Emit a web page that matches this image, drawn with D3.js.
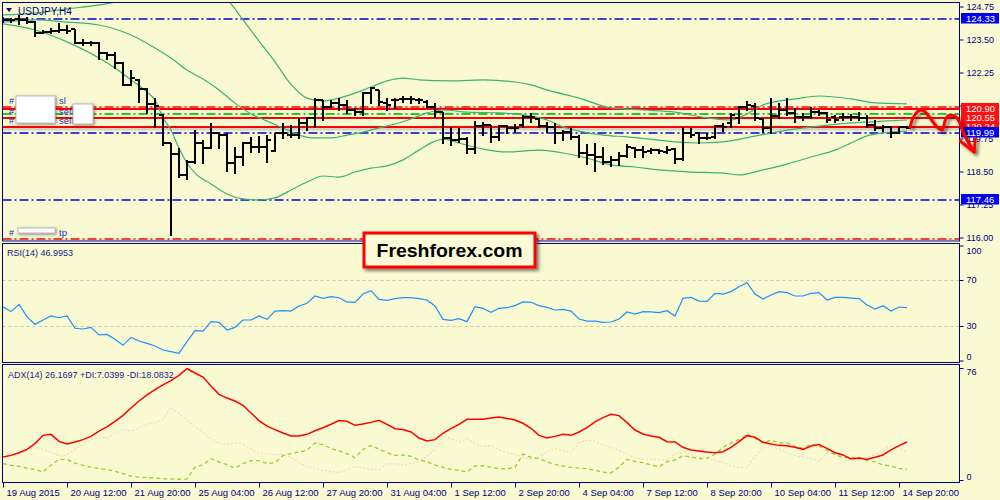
<!DOCTYPE html>
<html><head><meta charset="utf-8">
<script src="https://cdnjs.cloudflare.com/ajax/libs/d3/7.8.5/d3.min.js"></script>
<style>
html,body{margin:0;padding:0;background:#FAFAD2;}
svg{display:block;font-family:"Liberation Sans",Arial,sans-serif;}
</style></head><body>
<svg id="c" width="1000" height="500"></svg>
<script>
// ---------------- DATA ----------------
const timeLabels = ["19 Aug 2015","20 Aug 12:00","21 Aug 20:00","25 Aug 04:00","26 Aug 12:00","27 Aug 20:00","31 Aug 04:00","1 Sep 12:00","2 Sep 20:00","4 Sep 04:00","7 Sep 12:00","8 Sep 20:00","10 Sep 04:00","11 Sep 12:00","14 Sep 20:00"];
const timeLabelIdx = [0,8,16,24,32,40,48,56,64,72,80,88,96,104,112];

const opens = [124.24,124.24,124.26,124.24,124.18,123.76,123.80,123.83,123.86,123.89,
123.38,123.38,123.38,122.98,122.91,122.60,121.78,121.97,121.61,121.04,
120.64,119.57,119.16,118.37,118.87,119.57,119.38,119.95,119.88,118.81,
119.06,119.57,119.44,119.44,119.29,119.95,119.88,119.88,120.32,120.51,
121.21,120.96,121.08,121.02,120.83,120.77,121.46,121.59,121.08,121.21,
121.24,121.24,121.21,121.15,120.96,120.77,119.76,119.69,119.72,119.34,
120.22,120.26,119.79,120.22,120.13,120.26,120.58,120.49,120.22,120.20,
119.97,120.01,119.79,119.21,119.12,119.04,118.87,118.94,119.09,119.38,
119.31,119.28,119.31,119.25,119.34,118.96,119.95,119.95,119.76,119.79,
120.22,120.32,120.51,120.96,120.98,120.49,120.13,120.60,120.83,120.70,
120.58,120.58,120.77,120.70,120.58,120.58,120.55,120.58,120.51,120.26,
120.13,120.20,119.97,120.20];
const highs = [124.36,124.30,124.43,124.36,124.21,123.86,123.92,124.11,124.05,123.89,
123.51,123.46,123.42,123.04,123.04,122.66,122.34,121.99,121.65,121.27,
120.67,119.59,119.38,118.94,120.07,119.69,120.35,119.95,119.95,119.44,
119.63,119.82,119.85,119.88,119.95,120.32,120.26,120.51,120.58,121.27,
121.21,121.21,121.27,121.21,120.89,121.52,121.71,121.59,121.27,121.27,
121.36,121.36,121.27,121.21,121.08,120.77,120.20,120.13,119.82,120.43,
120.39,120.26,120.26,120.26,120.30,120.64,120.70,120.51,120.39,120.35,
120.07,120.13,119.88,119.54,119.57,119.41,119.09,119.25,119.54,119.44,
119.47,119.38,119.34,119.47,119.38,120.20,120.13,120.01,119.95,120.26,
120.32,120.70,120.98,121.17,121.08,120.51,121.27,121.08,121.27,120.89,
120.70,120.96,120.83,120.77,120.64,120.70,120.68,120.77,120.64,120.45,
120.26,120.22,120.20,120.22];
const lows = [124.18,124.18,124.09,124.11,123.63,123.73,123.76,123.80,123.73,123.35,
123.29,123.29,122.75,122.75,122.41,121.78,121.78,121.15,120.70,120.20,
119.50,116.09,118.30,118.20,118.81,118.81,119.38,119.38,118.53,118.43,
118.75,119.25,119.25,118.87,119.29,119.76,119.82,119.76,120.07,120.20,
120.45,120.96,120.83,120.70,120.64,120.64,121.08,121.02,120.83,120.89,
121.15,121.08,121.08,120.89,120.58,119.57,119.50,119.63,119.21,119.19,
119.88,119.63,119.69,119.95,120.01,120.20,120.39,120.17,120.01,119.59,
119.69,119.72,119.06,118.78,118.53,118.78,118.71,118.75,119.06,119.06,
119.06,119.21,119.21,119.21,118.81,118.94,119.82,119.59,119.72,119.76,
120.05,120.17,120.32,120.83,120.45,120.01,119.95,120.51,120.64,120.39,
120.45,120.51,120.64,120.39,120.39,120.45,120.45,120.45,120.20,120.07,
120.05,119.79,119.95,120.13];
const closes = [124.24,124.22,124.22,124.18,123.76,123.78,123.83,123.86,123.83,123.38,
123.38,123.38,122.98,122.91,122.60,121.78,122.03,121.61,121.04,120.98,
119.59,119.16,118.37,118.87,119.57,119.38,119.95,119.88,118.81,119.06,
119.57,119.44,119.44,119.69,119.95,119.95,119.88,120.32,120.51,121.21,
120.96,121.08,121.02,120.83,120.77,121.46,121.65,121.15,121.02,121.21,
121.24,121.24,121.21,120.96,120.77,119.76,119.69,119.72,119.34,120.22,
120.26,119.79,120.22,120.13,120.13,120.58,120.58,120.22,120.20,119.97,
120.01,119.79,119.21,119.12,119.04,118.87,118.94,119.09,119.44,119.31,
119.25,119.31,119.29,119.31,118.96,119.95,119.88,119.76,119.76,120.22,
120.20,120.64,120.96,121.02,120.51,120.13,120.60,120.83,120.70,120.58,
120.58,120.77,120.70,120.45,120.45,120.55,120.58,120.51,120.26,120.13,
120.20,119.97,120.17,120.16];

// Bollinger bands (read at sampled bars)
const bbUpperIdx = [0,4,8,12,14,17,20,24,27,28,30,32,34,36,38,40,42,44,46,48,50,52,56,60,64,66,68,72,76,80,84,88,91,93,95,99,102,106,109,113];
const bbUpperVal = [124.43,124.50,124.66,124.81,124.92,125.30,125.45,125.37,125.15,125.00,124.24,123.44,122.65,121.80,121.28,121.17,121.28,121.47,121.70,121.93,122.04,121.97,121.93,121.97,121.89,121.78,121.59,121.28,120.91,120.83,120.75,120.53,120.45,120.68,121.02,121.25,121.36,121.25,121.10,121.06];
const bbMidIdx = [0,4,8,12,16,19,21,23,25,27,29,31,33,35,37,39,41,43,45,47,49,51,53,55,58,62,65,68,70,72,75,78,82,84,87,90,94,98,102,106,110,113];
const bbMidVal = [124.16,124.24,124.16,124.05,123.67,123.18,122.80,122.34,122.00,121.59,121.09,120.68,120.41,120.15,119.88,119.77,119.77,119.88,119.99,120.15,120.30,120.49,120.72,120.83,120.75,120.72,120.64,120.45,120.19,120.03,119.88,119.81,119.69,119.62,119.58,119.62,119.84,120.07,120.22,120.34,120.41,120.45];
const bbLowIdx = [0,4,8,12,14,16,18,19,20,21,22,23,24,26,28,30,32,34,36,38,40,42,44,46,48,50,52,54,55,57,60,63,67,70,73,76,79,82,86,90,92,95,98,101,104,106,108,110,113];
const bbLowVal = [124.09,123.86,123.41,122.80,122.42,121.97,121.51,121.21,120.53,120.07,119.39,118.82,118.44,118.03,117.65,117.46,117.42,117.50,117.80,118.10,118.33,118.29,118.48,118.63,118.71,118.94,119.31,119.65,119.73,119.58,119.35,119.24,119.31,119.20,119.01,118.75,118.67,118.56,118.48,118.44,118.37,118.56,118.78,119.05,119.31,119.58,119.85,119.96,120.03];

// Horizontal levels
const blueLevels = [124.33, 119.99, 117.46];
const orderLevels = [120.90, 120.55, 120.24];
const stopLevels = [121.00, 116.00];
const targetLevels = [120.70];
const bidLevel = [120.16];
const orderTags = [{v:121.00,t:"sl"},{v:120.55,t:"sell"},{v:120.24,t:"sell"},{v:116.00,t:"tp"}];

// Forecast arrow (bar index, price)
const forecastIdx = [113.4,113.75,114.25,114.9,115.5,116.25,116.9,117.4,117.75,118.1,119.0,119.5,119.9,120.5,121.4];
const forecastVal = [120.18,120.53,120.75,120.83,120.68,120.37,120.15,120.07,120.41,120.60,120.60,120.41,120.07,119.69,119.24];

const rsi = [46.8,42.5,48.8,38.1,31.4,35.2,38.7,37.2,38.7,28.0,
27.4,28.8,22.2,22.7,18.4,13.2,20.1,17.0,14.9,12.6,
9.1,7.7,6.2,16.4,25.9,25.6,33.8,33.2,26.5,28.8,
35.2,35.2,38.7,35.8,43.0,43.3,43.0,47.4,49.7,56.1,
54.1,55.5,54.6,50.9,50.6,57.8,60.7,53.2,52.3,53.8,
54.6,54.6,53.8,52.6,47.4,35.8,34.9,36.4,33.8,46.8,
45.4,41.9,45.4,45.9,47.7,50.9,50.6,47.7,46.2,43.9,
44.5,43.0,36.1,34.3,34.3,33.2,33.5,36.1,42.2,40.4,
42.5,42.2,41.6,43.3,38.7,54.1,54.9,51.7,51.4,58.4,
57.8,59.9,64.2,67.7,57.8,53.5,57.0,59.9,59.0,56.1,
56.1,58.4,59.0,52.6,54.9,54.9,54.3,53.8,48.3,44.8,
47.7,43.0,46.5,45.9];
const rsiLevels = [70, 30];

const adx = [15.6,16.7,18.5,20.8,24.7,30.3,31.0,26.2,24.4,25.8,
27.4,29.6,33.2,36.0,39.8,43.9,48.9,53.6,57.7,61.3,
64.5,67.4,71.0,75.5,72.6,69.9,63.8,58.1,55.6,53.6,
50.7,45.5,40.3,36.6,34.2,31.9,29.9,29.9,31.0,33.4,
35.5,37.8,40.3,39.8,37.1,38.0,39.1,40.5,37.8,34.8,
34.2,32.6,28.5,26.5,27.4,31.7,34.8,37.8,41.2,41.2,
41.2,42.1,42.7,41.8,40.7,38.5,35.1,30.3,28.5,29.6,
31.0,30.3,32.6,35.5,39.4,42.3,44.6,43.7,38.9,33.9,
31.2,29.9,29.0,26.0,25.8,22.2,20.4,19.7,19.0,18.5,
19.2,22.2,26.0,30.1,29.0,25.6,24.4,23.5,23.3,22.2,
20.8,23.1,24.0,21.5,18.5,17.0,14.3,14.9,14.0,15.4,
17.0,20.4,23.3,25.8];
const plusDI = [11.1,10.0,9.3,8.1,7.2,5.4,10.0,14.0,13.8,11.5,
10.0,8.8,7.7,7.0,5.9,4.3,2.7,2.0,1.6,1.4,
0.9,0.7,0.5,0.7,8.8,10.4,14.5,12.2,10.4,8.1,
11.1,13.1,13.1,11.1,11.8,16.7,17.9,19.0,20.1,25.1,
24.0,21.3,19.7,17.9,15.2,20.8,23.5,20.8,18.5,16.7,
17.0,16.1,13.6,12.4,10.2,8.6,7.2,6.6,5.4,9.5,
9.7,8.6,7.7,7.5,8.6,17.6,15.4,14.5,12.2,10.6,
9.5,8.6,8.1,7.7,6.6,5.4,4.7,8.8,14.0,12.7,
11.8,10.2,9.0,12.4,13.6,16.5,15.6,14.5,14.7,17.6,
22.2,25.1,27.4,31.2,28.3,25.1,27.1,25.1,25.3,22.8,
21.5,24.4,22.8,20.4,17.2,15.2,15.4,15.4,13.1,12.4,
10.2,9.5,7.9,7.2];
const minusDI = [19.5,17.6,18.1,20.1,22.2,20.8,18.8,16.1,17.2,20.8,
24.4,27.4,29.0,28.3,31.7,34.4,33.2,35.3,37.8,38.9,
41.2,49.3,45.0,40.7,36.2,32.1,28.1,24.7,24.0,25.3,
24.0,21.0,18.1,17.9,17.2,17.6,15.6,11.8,9.3,7.9,
6.6,5.7,5.0,6.8,9.3,8.1,7.0,7.0,11.1,11.1,
10.0,11.1,12.7,16.1,20.8,30.3,28.1,25.8,28.1,24.7,
22.6,23.3,20.4,18.5,17.6,15.6,14.0,15.6,19.0,21.5,
19.7,18.5,25.1,27.1,26.2,23.5,22.2,20.1,17.6,15.2,
14.2,14.0,14.0,13.6,17.6,19.0,17.0,15.8,15.2,13.1,
12.2,9.5,8.6,8.4,15.8,21.7,22.6,21.0,18.5,16.5,
15.6,14.7,12.7,18.1,18.5,16.3,14.5,13.8,14.7,17.6,
20.4,23.1,22.6,18.3];

const priceTicks = [116.00,117.25,118.50,119.75,121.00,122.25,123.50,124.75];
const hiddenPriceLabels = [121.00];
const rsiTicks = [0,30,70,100];
const adxTicks = [0,76];

// ---------------- DRAW ----------------
const BG = "#FAFAD2", NAVY = "#000080";
const svg = d3.select("#c");
svg.append("rect").attr("width",1000).attr("height",500).attr("fill",BG);

const defs = svg.append("defs");
const f1 = defs.append("filter").attr("id","shadow").attr("x","-30%").attr("y","-30%").attr("width","160%").attr("height","160%");
f1.append("feDropShadow").attr("dx",2.5).attr("dy",2.5).attr("stdDeviation",1.8).attr("flood-color","#000").attr("flood-opacity",0.5);
const f2 = defs.append("filter").attr("id","blurbox").attr("x","-30%").attr("y","-30%").attr("width","160%").attr("height","160%");
f2.append("feDropShadow").attr("dx",1).attr("dy",1).attr("stdDeviation",1.6).attr("flood-color","#444").attr("flood-opacity",0.7);

const L = 2.5, R = 959.5;
const panels = [[2.5,241],[243.5,362.5],[364.5,482.5]];
panels.forEach((p,i)=>{
  defs.append("clipPath").attr("id","clip"+i).append("rect")
    .attr("x",L+0.5).attr("y",p[0]+0.5).attr("width",R-L-1).attr("height",p[1]-p[0]-1);
});

const x = d3.scaleLinear().domain([0,113]).range([3,907]);
const yP = d3.scaleLinear().domain([116,124.75]).range([237.5,6.5]);
const yR = d3.scaleLinear().domain([0,100]).range([360.5,245.5]);
const yA = d3.scaleLinear().domain([0,76]).range([480,368]);
const lvl = v => Math.round(yP(v)+1);

// ---- main panel ----
const main = svg.append("g").attr("clip-path","url(#clip0)");
function hline(g, v, color, w, dash){
  const yy = lvl(v);
  g.append("line").attr("x1",L).attr("x2",R).attr("y1",yy).attr("y2",yy)
   .attr("stroke",color).attr("stroke-width",w).attr("stroke-dasharray",dash||null);
}
bidLevel.forEach(v=>hline(main,v,"#D0D0C8",3));
blueLevels.forEach(v=>hline(main,v,"#0000E0",1.6,"9,3,2,3"));
stopLevels.forEach(v=>hline(main,v,"#FF0000",1.6,"9,3,2,3"));
targetLevels.forEach(v=>hline(main,v,"#22CC22",2,"9,3,2,3"));
orderLevels.forEach(v=>hline(main,v,"#FF0000",2));

const band = d3.line().curve(d3.curveMonotoneX);
[[bbUpperIdx,bbUpperVal],[bbMidIdx,bbMidVal],[bbLowIdx,bbLowVal]].forEach(([ix,vals])=>{
  main.append("path").attr("d",band(ix.map((k,j)=>[x(k),yP(vals[j])])))
    .attr("fill","none").attr("stroke","#3CB371").attr("stroke-width",1.2);
});

const bars = main.append("g").attr("stroke","#000").attr("stroke-width",2);
opens.forEach((o,i)=>{
  const cx = Math.round(x(i));
  bars.append("line").attr("x1",cx).attr("x2",cx).attr("y1",Math.round(yP(highs[i]))).attr("y2",Math.round(yP(lows[i]))+1);
  const yo = Math.round(yP(o)), yc = Math.round(yP(closes[i]));
  bars.append("line").attr("x1",cx-4).attr("x2",cx).attr("y1",yo).attr("y2",yo);
  bars.append("line").attr("x1",cx).attr("x2",cx+4).attr("y1",yc).attr("y2",yc);
});

// order tags with blurred boxes
const tagColor = "#2a2ab8";
orderTags.forEach(d=>{
  const cy = lvl(d.v) - 6.5;
  main.append("text").attr("x",9).attr("y",cy).attr("dy","0.35em").attr("font-size",9).attr("fill",tagColor).text("#");
  main.append("text").attr("x",59).attr("y",cy).attr("dy","0.35em").attr("font-size",9.5).attr("fill",tagColor).text(d.t);
});
const boxes = main.append("g").attr("filter","url(#blurbox)");
boxes.append("rect").attr("x",16).attr("y",96).attr("width",39).attr("height",27).attr("fill","#fff").attr("stroke","#bbb").attr("stroke-width",1);
boxes.append("rect").attr("x",73).attr("y",104).attr("width",20).attr("height",20).attr("fill","#fff").attr("stroke","#bbb").attr("stroke-width",1);
boxes.append("rect").attr("x",18).attr("y",228).attr("width",37).attr("height",5).attr("fill","#fff").attr("stroke","#bbb").attr("stroke-width",1);

// title
svg.append("path").attr("d","M6,8 L12,8 L9,12 Z").attr("fill",NAVY);
svg.append("text").attr("x",18).attr("y",11).attr("dy","0.35em").attr("font-size",10).attr("fill",NAVY).text("USDJPY,H4");

// ---- RSI panel ----
const rsiG = svg.append("g").attr("clip-path","url(#clip1)");
rsiLevels.forEach(v=>{
  rsiG.append("line").attr("x1",L).attr("x2",R).attr("y1",Math.round(yR(v))+0.5).attr("y2",Math.round(yR(v))+0.5)
   .attr("stroke","#C4C4C4").attr("stroke-width",1).attr("stroke-dasharray","3,3");
});
rsiG.append("path").attr("d",d3.line()(rsi.map((v,i)=>[x(i),yR(v)])))
  .attr("fill","none").attr("stroke","#1E90FF").attr("stroke-width",1.2);
svg.append("text").attr("x",7).attr("y",253).attr("dy","0.35em").attr("font-size",9).attr("fill","#1a1a8c").text("RSI(14) 46.9953");

// ---- ADX panel ----
const adxG = svg.append("g").attr("clip-path","url(#clip2)");
adxG.append("path").attr("d",d3.line()(minusDI.map((v,i)=>[x(i),yA(v)])))
  .attr("fill","none").attr("stroke","#F4D8BE").attr("stroke-width",1.3).attr("stroke-dasharray","2,2");
adxG.append("path").attr("d",d3.line()(plusDI.map((v,i)=>[x(i),yA(v)])))
  .attr("fill","none").attr("stroke","#9ACD32").attr("stroke-width",1.3).attr("stroke-dasharray","4,3");
adxG.append("path").attr("d",d3.line()(adx.map((v,i)=>[x(i),yA(v)])))
  .attr("fill","none").attr("stroke","#FF0000").attr("stroke-width",1.5);
svg.append("text").attr("x",8).attr("y",375).attr("dy","0.35em").attr("font-size",9).attr("fill","#1a1a8c").text("ADX(14) 26.1697 +DI:7.0399 -DI:18.0832");

// ---- frames ----
panels.forEach(p=>{
  svg.append("rect").attr("x",L).attr("y",p[0]).attr("width",R-L).attr("height",p[1]-p[0])
    .attr("fill","none").attr("stroke",NAVY).attr("stroke-width",1);
});

// ---- axes ----
function styleAxis(g){
  g.select(".domain").remove();
  g.selectAll(".tick line").attr("stroke",NAVY);
  g.selectAll(".tick text").attr("fill",NAVY).attr("font-size",9).attr("font-family","Liberation Sans, Arial, sans-serif");
}
const pAx = svg.append("g").attr("transform",`translate(${R},0)`)
  .call(d3.axisRight(yP).tickValues(priceTicks).tickFormat(d=> hiddenPriceLabels.includes(d) ? "" : d3.format(".2f")(d)).tickSize(4).tickPadding(3));
styleAxis(pAx);
const rAx = svg.append("g").attr("transform",`translate(${R},0)`)
  .call(d3.axisRight(yR).tickValues(rsiTicks).tickFormat(d3.format("d")).tickSize(4).tickPadding(3));
styleAxis(rAx);
rAx.selectAll(".tick text").attr("dy",d=> d===100?"0.85em": d===0?"-0.15em":"0.32em");
const aAx = svg.append("g").attr("transform",`translate(${R},0)`)
  .call(d3.axisRight(yA).tickValues(adxTicks).tickFormat(d3.format("d")).tickSize(4).tickPadding(3));
styleAxis(aAx);
aAx.selectAll(".tick text").attr("dy",d=> d===76?"0.75em":"-0.1em");

const tAx = svg.append("g").attr("transform","translate(0,482.5)")
  .call(d3.axisBottom(x).tickValues(timeLabelIdx).tickFormat((d,i)=>timeLabels[i]).tickSize(5).tickPadding(2));
styleAxis(tAx);
tAx.selectAll(".tick text").attr("text-anchor","start").attr("x",3).attr("font-size",9.5);

// ---- price label boxes ----
function priceBox(v, fill){
  const yy = lvl(v);
  svg.append("rect").attr("x",961).attr("y",yy-6).attr("width",38).attr("height",10.5).attr("fill",fill);
  svg.append("text").attr("x",966).attr("y",yy-0.8).attr("dy","0.35em").attr("font-size",9.5).attr("fill","#fff").text(v.toFixed(2));
}
[...orderLevels].reverse().forEach(v=>priceBox(v,"#FF1010"));
blueLevels.forEach(v=>priceBox(v,"#0000F0"));

// ---- forecast arrow ----
const arrow = svg.append("g").attr("filter","url(#shadow)").attr("fill","none").attr("stroke","#FF0000").attr("stroke-width",3).attr("stroke-linejoin","round").attr("stroke-linecap","round");
const fpts = forecastIdx.map((k,j)=>[x(k),yP(forecastVal[j])]);
arrow.append("path").attr("d",d3.line().curve(d3.curveCatmullRom)(fpts));
const tip = fpts[fpts.length-1];
arrow.append("path").attr("d",`M${tip[0]-14},${tip[1]-11} L${tip[0]},${tip[1]} L${tip[0]+1},${tip[1]-13}`);

// ---- Freshforex banner ----
const bn = svg.append("g");
bn.append("rect").attr("x",364).attr("y",233).attr("width",171).attr("height",34)
  .attr("fill","#FBFBD8").attr("stroke","#FF0000").attr("stroke-width",3).attr("filter","url(#shadow)");
bn.append("text").attr("x",449.5).attr("y",257).attr("text-anchor","middle").attr("font-size",19)
  .attr("font-weight","bold").attr("fill","#000").attr("textLength",146).attr("lengthAdjust","spacingAndGlyphs").text("Freshforex.com");
</script>
</body></html>
